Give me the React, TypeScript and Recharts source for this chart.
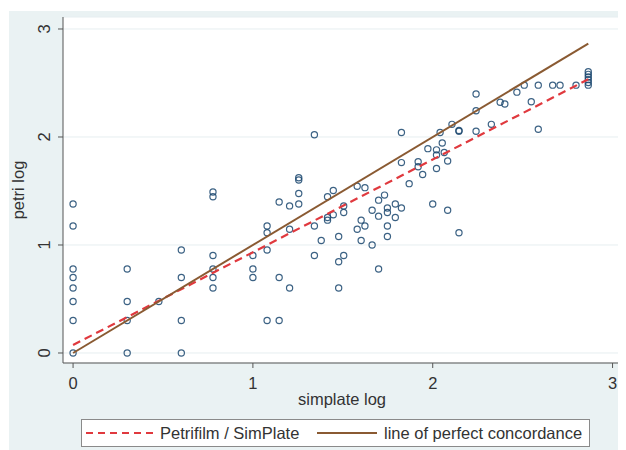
import React from 'react';
import { ScatterChart, Scatter, XAxis, YAxis, CartesianGrid, Legend } from 'recharts';

// simplate log values (x) grouped into columns, with petri log values (y) per column
const columnX = [
  0, 0.301, 0.477, 0.602, 0.778, 1.0, 1.079, 1.146, 1.204, 1.255,
  1.342, 1.38, 1.415, 1.447, 1.477, 1.505, 1.58, 1.602, 1.623, 1.663,
  1.699, 1.732, 1.748, 1.792, 1.826, 1.869, 1.919, 1.944, 1.973, 2.0,
  2.021, 2.041, 2.053, 2.064, 2.083, 2.107, 2.146, 2.241, 2.326, 2.375,
  2.401, 2.468, 2.509, 2.548, 2.587, 2.667, 2.708, 2.797, 2.865,
];
const columnY = [
  [0, 0.301, 0.477, 0.602, 0.699, 0.778, 1.176, 1.38],
  [0, 0.301, 0.477, 0.778],
  [0.477],
  [0, 0.301, 0.699, 0.954],
  [0.602, 0.699, 0.778, 0.903, 1.447, 1.491],
  [0.699, 0.778, 0.903],
  [0.301, 0.954, 1.114, 1.176],
  [0.301, 0.699, 1.398],
  [0.602, 1.146, 1.362],
  [1.38, 1.477, 1.602, 1.623],
  [0.903, 1.176, 2.021],
  [1.041],
  [1.23, 1.255, 1.447],
  [1.279, 1.505],
  [0.602, 0.845, 1.079],
  [0.903, 1.301, 1.362],
  [1.146, 1.544],
  [1.041, 1.23],
  [1.176, 1.531],
  [1.0, 1.322],
  [0.778, 1.267, 1.415],
  [1.462],
  [1.079, 1.176, 1.301, 1.342],
  [1.255, 1.38],
  [1.342, 1.763, 2.041],
  [1.568],
  [1.724, 1.771],
  [1.653],
  [1.892],
  [1.38],
  [1.708, 1.833, 1.881],
  [2.041],
  [1.944],
  [1.857],
  [1.778, 1.322],
  [2.117],
  [1.114, 2.053, 2.061],
  [2.053, 2.243, 2.398],
  [2.117],
  [2.322],
  [2.305],
  [2.415],
  [2.48],
  [2.326],
  [2.072, 2.48],
  [2.48],
  [2.48],
  [2.48],
  [2.48, 2.505, 2.531, 2.556, 2.58, 2.605],
];

// fitted line Petrifilm / SimPlate (endpoints)
const fitX = [0, 2.865];
const fitY = [0.074, 2.534];
// line of perfect concordance
const concX = [0, 2.865];
const concY = [0, 2.865];

const xTicks = [0, 1, 2, 3];
const yTicks = [0, 1, 2, 3];

const legendLabels = ['Petrifilm / SimPlate', 'line of perfect concordance'];

const points = columnX.flatMap((x, i) => columnY[i].map((y) => ({ x, y })));
const fitData = fitX.map((x, i) => ({ x, y: fitY[i] }));
const concData = concX.map((x, i) => ({ x, y: concY[i] }));

const FONT = '"Liberation Sans", Arial, sans-serif';
const FS = 16.5;
const TEXT = '#333';
const NAVY = '#1a476f';
const RED = '#e0393e';
const BROWN = '#8a5a32';

const Hollow = (props: any) => (
  <circle cx={props.cx} cy={props.cy} r={3.1} fill="none" stroke={NAVY} strokeWidth={1.2} opacity={0.85} />
);
const NoShape = () => <g />;

const XTick = (props: any) => (
  <text x={props.x} y={375} textAnchor="middle" dominantBaseline="central" fontFamily={FONT} fontSize={FS} fill={TEXT}>
    {props.payload.value}
  </text>
);
const YTick = (props: any) => {
  const cx = 36;
  return (
    <text x={cx} y={props.y} transform={`rotate(-90, ${cx}, ${props.y})`} textAnchor="middle" dominantBaseline="central" fontFamily={FONT} fontSize={FS} fill={TEXT}>
      {props.payload.value}
    </text>
  );
};

const LegendBox = () => (
  <div
    style={{
      boxSizing: 'border-box',
      width: 509,
      height: 28,
      border: '1px solid #8a8a8a',
      background: '#fff',
      position: 'relative',
    }}
  >
    <svg width={507} height={26} style={{ position: 'absolute', left: 0, top: 0 }}>
      <line x1={4} x2={72} y1={13} y2={13} stroke={RED} strokeWidth={2} strokeDasharray="7 5" />
      <text x={78} y={13} dominantBaseline="central" fontFamily={FONT} fontSize={FS} fill={TEXT}>
        {legendLabels[0]}
      </text>
      <line x1={235} x2={295} y1={13} y2={13} stroke={BROWN} strokeWidth={2} />
      <text x={302} y={13} dominantBaseline="central" fontFamily={FONT} fontSize={FS} fill={TEXT}>
        {legendLabels[1]}
      </text>
    </svg>
  </div>
);

export default function App() {
  return (
    <div style={{ position: 'relative', width: 618, height: 442 }}>
      <div style={{ position: 'absolute', left: 1, top: 3, right: 0, bottom: 0, background: '#eaf2f3' }} />
      <ScatterChart width={618} height={442} margin={{ top: 9, right: 5, left: 0, bottom: 0 }} style={{ position: 'absolute', left: 0, top: 0 }}>
        <CartesianGrid vertical={false} stroke="#e6eef0" fill="#ffffff" />
        <XAxis
          type="number"
          dataKey="x"
          domain={[-0.056, 3.047]}
          ticks={xTicks}
          allowDataOverflow
          height={87}
          tickSize={5}
          tickLine={{ stroke: '#555' }}
          axisLine={{ stroke: '#555' }}
          tick={<XTick />}
          label={(p: any) => (
            <text x={334} y={391} textAnchor="middle" dominantBaseline="central" fontFamily={FONT} fontSize={FS} fill={TEXT}>
              simplate log
            </text>
          )}
        />
        <YAxis
          type="number"
          dataKey="y"
          domain={[-0.0926, 3.111]}
          ticks={yTicks}
          allowDataOverflow
          width={55}
          tickSize={5}
          tickLine={{ stroke: '#555' }}
          axisLine={{ stroke: '#555' }}
          tick={<YTick />}
          label={(p: any) => (
            <text x={10} y={182} transform="rotate(-90, 10, 182)" textAnchor="middle" dominantBaseline="central" fontFamily={FONT} fontSize={FS} fill={TEXT}>
              petri log
            </text>
          )}
        />
        <Scatter name="points" data={points} shape={<Hollow />} isAnimationActive={false} legendType="none" />
        <Scatter
          name={legendLabels[0]}
          data={fitData}
          shape={<NoShape />}
          line={{ stroke: RED, strokeWidth: 2.2, strokeDasharray: '8 5' }}
          isAnimationActive={false}
        />
        <Scatter
          name={legendLabels[1]}
          data={concData}
          shape={<NoShape />}
          line={{ stroke: BROWN, strokeWidth: 2 }}
          isAnimationActive={false}
        />
        <Legend
          layout="horizontal"
          verticalAlign="middle"
          align="center"
          content={<LegendBox />}
          wrapperStyle={{ top: 411, left: 73, width: 509, height: 28 }}
        />
      </ScatterChart>
    </div>
  );
}
